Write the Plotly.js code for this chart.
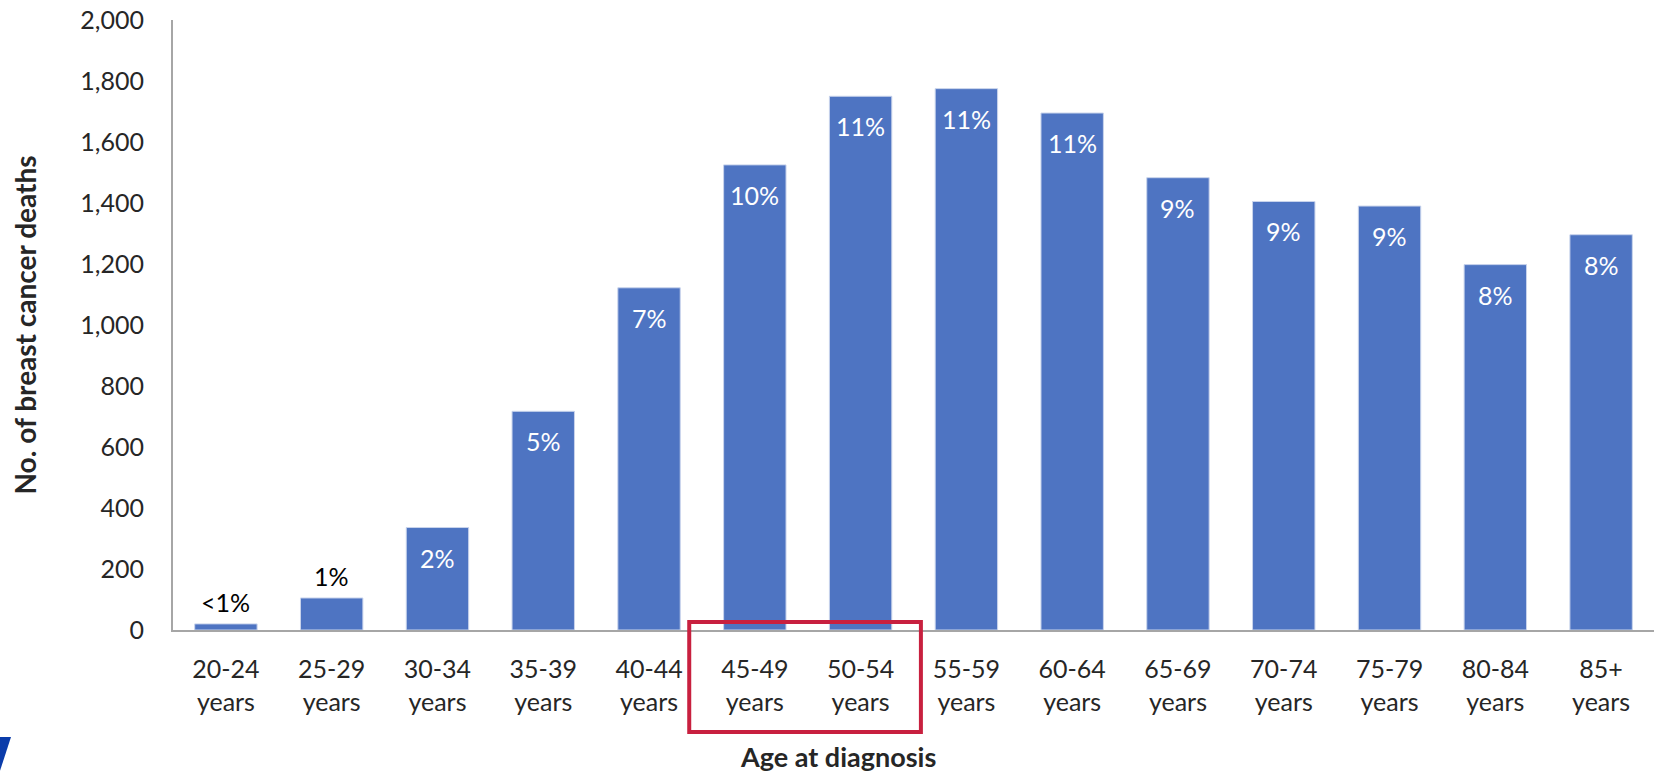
<!DOCTYPE html>
<html>
<head>
<meta charset="utf-8">
<script src="https://cdn.plot.ly/plotly-3.0.1.min.js"></script>
<style>html,body{margin:0;padding:0;background:#fff;}#chart{width:1656px;height:777px;}</style>
</head>
<body>
<div id="chart"></div>
<script>
// ---- data ----
var categories = ["20-24 years","25-29 years","30-34 years","35-39 years","40-44 years","45-49 years","50-54 years","55-59 years","60-64 years","65-69 years","70-74 years","75-79 years","80-84 years","85+ years"];
var deaths = [20, 105, 336, 717, 1122, 1525, 1750, 1775, 1695, 1483, 1405, 1390, 1198, 1296];
var shareLabels = ["<1%","1%","2%","5%","7%","10%","11%","11%","11%","9%","9%","9%","8%","8%"];
var labelOutside = [true, true, false, false, false, false, false, false, false, false, false, false, false, false];
var yTickVals = [0,200,400,600,800,1000,1200,1400,1600,1800,2000];
var highlighted = ["45-49 years","50-54 years"];

// ---- layout geometry ----
var W = 1656, H = 777;
var M = {l:173, r:2, t:20, b:147};
var plotW = W - M.l - M.r, plotH = H - M.t - M.b;
function px2x(px){ return (px - M.l)/plotW; }
function py2y(py){ return (H - M.b - py)/plotH; }

var FONT = "Lato, 'Open Sans', sans-serif";
var tickText = categories.map(function(c){ return c.replace(" ", "<br>"); });
var N = categories.length;
function catDomain(pos){ return (pos + 0.5)/N; }

var annotations = categories.map(function(c, i){
  return {
    x: c, y: deaths[i], xref:'x', yref:'y',
    text: shareLabels[i], showarrow:false,
    yanchor:'middle', xanchor:'center',
    yshift: labelOutside[i] ? 22 : -30,
    font:{family:FONT, size:25, color: labelOutside[i] ? '#000000' : '#ffffff'}
  };
});
annotations.push({
  xref:'paper', yref:'paper', x: px2x(838), y: py2y(756),
  text:'<b>Age at diagnosis</b>', showarrow:false,
  xanchor:'center', yanchor:'middle',
  font:{family:FONT, size:27, color:'#262626'}
});

var i0 = categories.indexOf(highlighted[0]);
var i1 = categories.indexOf(highlighted[1]);

var shapes = [
  {type:'rect', xref:'x domain', yref:'paper',
   x0: catDomain(i0-0.62), x1: catDomain(i1+0.57), y0: py2y(732), y1: py2y(622),
   line:{color:'#C8203F', width:4}, fillcolor:'rgba(0,0,0,0)', layer:'above'},
  {type:'path', xref:'paper', yref:'paper',
   path:'M '+px2x(-5)+','+py2y(737)+' L '+px2x(11)+','+py2y(737)+' L '+px2x(-2)+','+py2y(777)+' L '+px2x(-5)+','+py2y(777)+' Z',
   fillcolor:'#0B3CAA', line:{width:0}}
];

var trace = {
  type:'bar', x: categories, y: deaths,
  marker:{color:'#4E74C2', line:{color:'#C9D4EC', width:1}},
  hoverinfo:'x+y'
};

var layout = {
  width: W, height: H,
  margin: M,
  paper_bgcolor:'#ffffff', plot_bgcolor:'#ffffff',
  showlegend:false,
  bargap: 0.41,
  font:{family:FONT, color:'#262626', size:25},
  xaxis:{
    type:'category',
    tickvals: categories, ticktext: tickText,
    showgrid:false, zeroline:false,
    showline:true, linecolor:'#A6A6A6', linewidth:2,
    ticks:'', ticklabelstandoff: 16,
    tickfont:{family:FONT, size:25, color:'#262626'},
    range:[-0.5, N-0.5]
  },
  yaxis:{
    range:[0,2000],
    tickvals: yTickVals,
    tickformat:',d',
    showgrid:false, zeroline:false,
    showline:true, linecolor:'#A6A6A6', linewidth:2,
    ticks:'', ticklabelstandoff: 22,
    tickfont:{family:FONT, size:25, color:'#262626'},
    title:{text:'<b>No. of breast cancer deaths</b>', standoff: 36,
           font:{family:FONT, size:28, color:'#262626'}}
  },
  annotations: annotations,
  shapes: shapes
};

Plotly.newPlot('chart', [trace], layout, {displayModeBar:false, staticPlot:true});
</script>
</body>
</html>
